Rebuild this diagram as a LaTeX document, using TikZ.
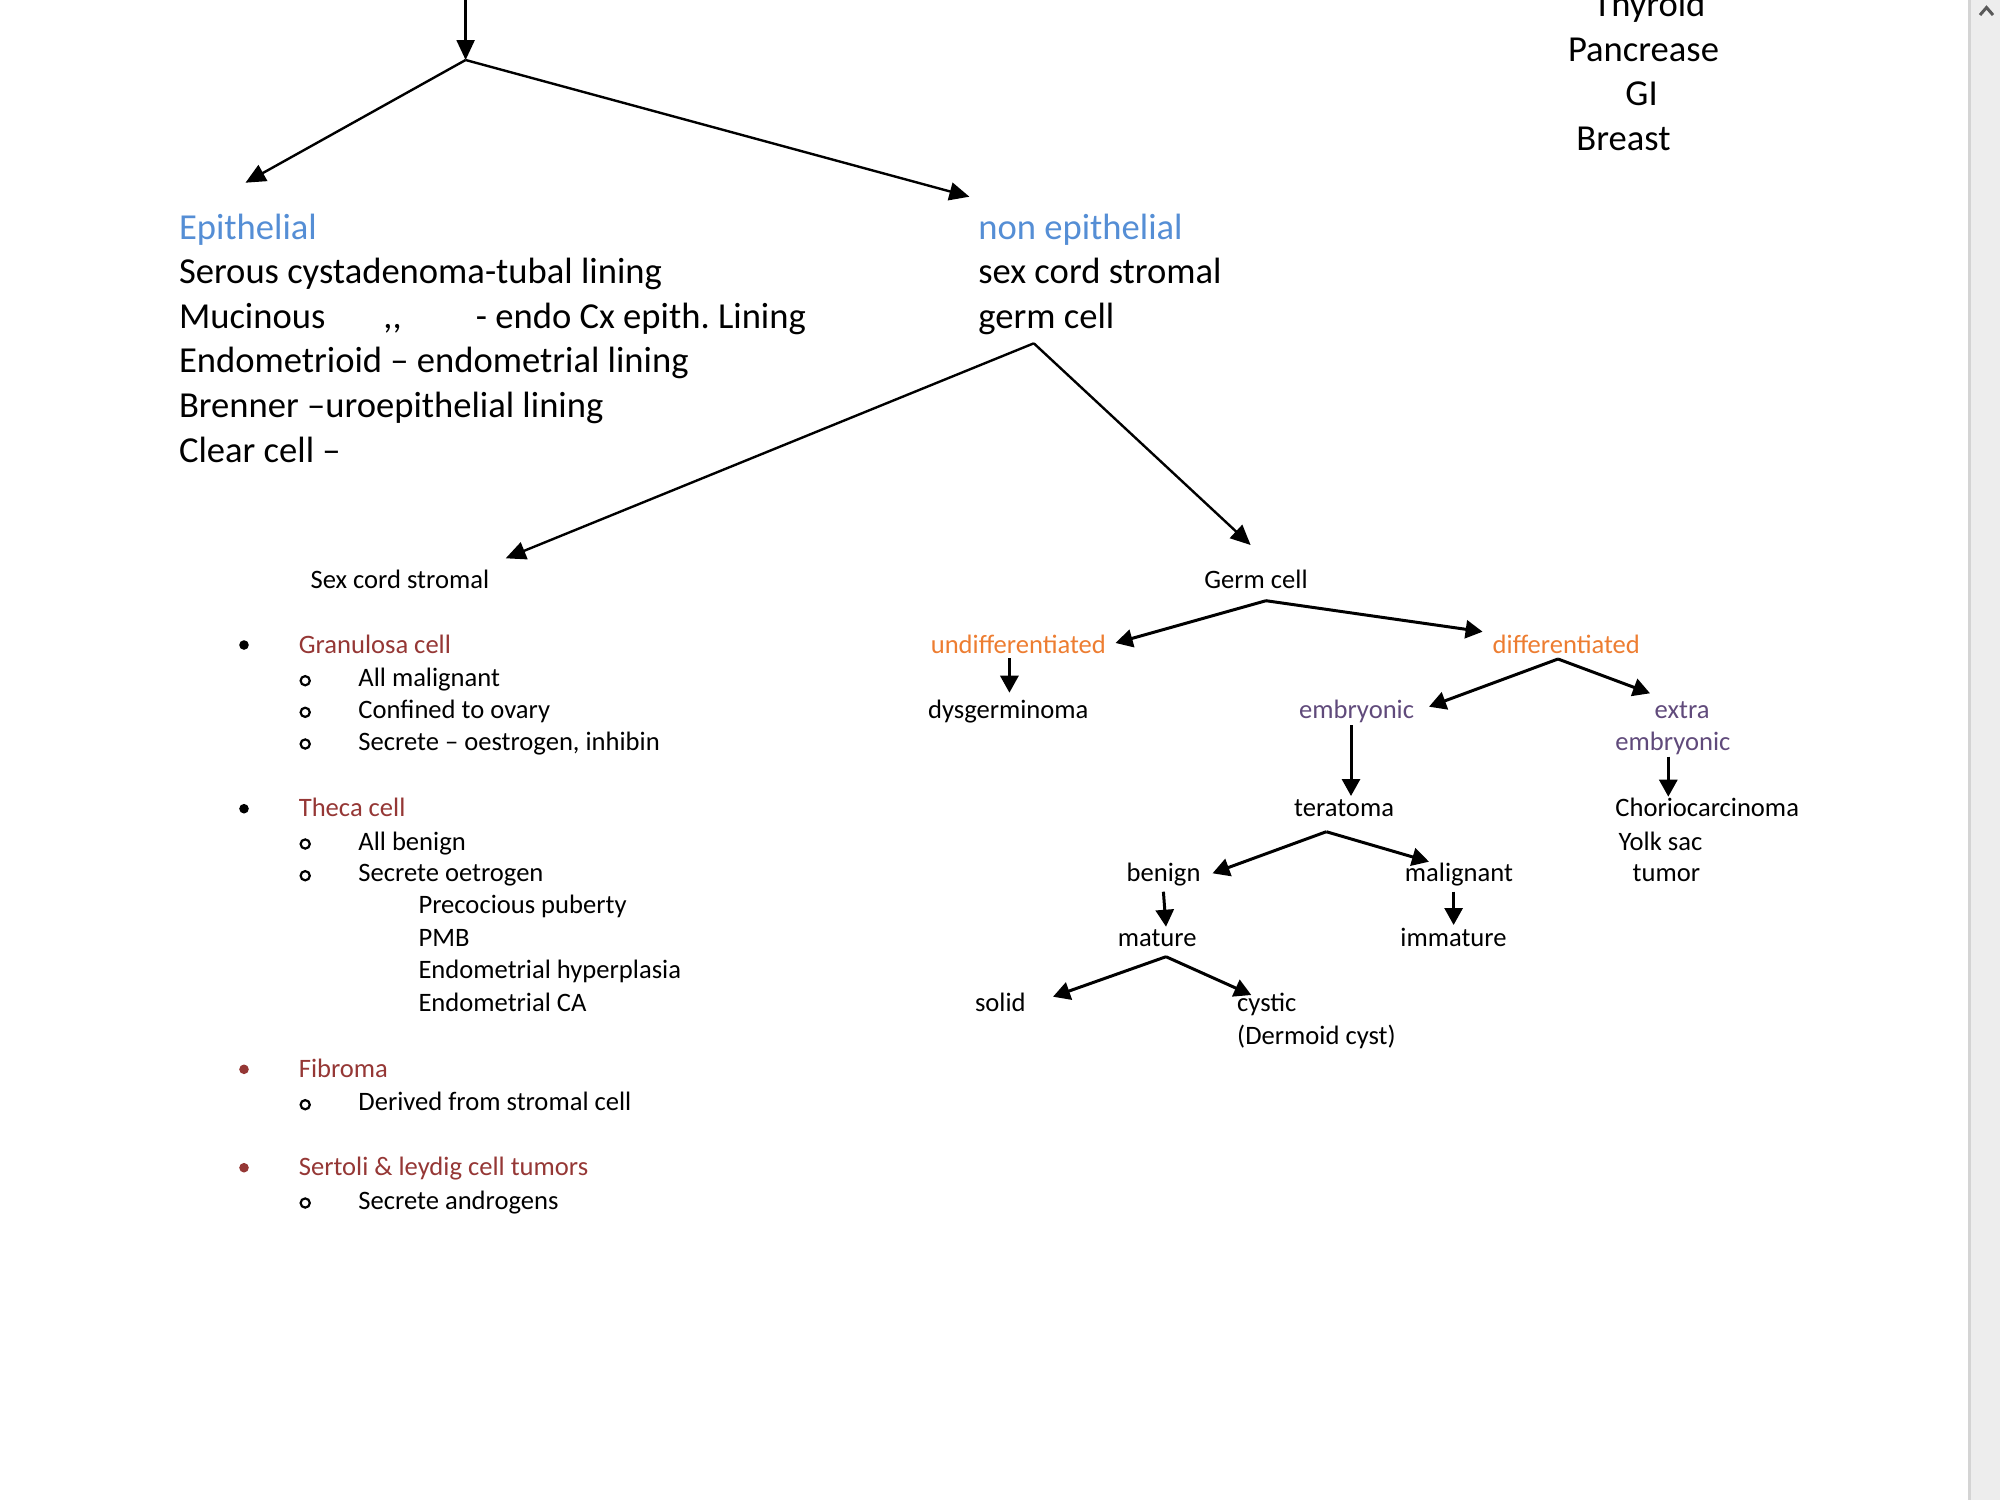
\documentclass[tikz,border=0pt]{standalone}
\usepackage{fontspec}
\setmainfont{Carlito}
\usetikzlibrary{arrows.meta}
\definecolor{epiblue}{RGB}{85,142,213}
\definecolor{orng}{RGB}{237,125,49}
\definecolor{purp}{RGB}{96,74,123}
\definecolor{dred}{RGB}{149,55,53}
\frenchspacing
\begin{document}
\begin{tikzpicture}[x=0.5pt,y=-0.5pt,
  big/.style={font=\fontsize{18.3}{22}\selectfont, inner sep=0pt, anchor=base west},
  sm/.style={font=\fontsize{13.3}{16}\selectfont, inner sep=0pt, anchor=base west},
  arr/.style={-{Triangle[length=10pt,width=9pt]}, line width=1.2pt},
  tarr/.style={-{Triangle[length=8.5pt,width=9pt]}, line width=1.5pt},
  bul/.style={circle, fill, inner sep=0pt, minimum size=4.8pt},
  subbul/.style={circle, draw, line width=1.1pt, inner sep=0pt, minimum size=4.6pt}]
\useasboundingbox (0,0) rectangle (2000,1500);
% scrollbar
\fill[black!7] (1971,0) rectangle (2000,1500);
\fill[black!17] (1968,0) rectangle (1971,1500);
\draw[black!65, line width=1.5pt] (1980,15) -- (1986.5,7.5) -- (1993,15);

% top block
\node[big,text=epiblue] (epi) at (178.6,239) {Epithelial};
\node[big] (serous) at (178.6,283.5) {Serous cystadenoma-tubal lining};
\node[big] (muc) at (178.6,328) {Mucinous};
\node[big] (ditto) at (383,328) {\mbox{,}\mbox{,}};
\node[big] (endocx) at (475.5,328) {- endo Cx epith.\ Lining};
\node[big] (endom) at (178.6,372.5) {Endometrioid – endometrial lining};
\node[big] (brenner) at (178.6,417) {Brenner –uroepithelial lining};
\node[big] (clear) at (178.6,462) {Clear cell –};

\node[big,text=epiblue] (nonepi) at (978,239) {non epithelial};
\node[big] (sexcord1) at (978,283.5) {sex cord stromal};
\node[big] (germ1) at (978,328) {germ cell};

\node[big] (thy) at (1593,16) {Thyroid};
\node[big] (panc) at (1567.6,61) {Pancrease};
\node[big] (gi) at (1625,105) {GI};
\node[big] (breast) at (1576,150) {Breast};

\coordinate (top) at (465.6,0);
\coordinate (fork1) at (465.6,60);
\coordinate (epitip) at (245.5,182.7);
\coordinate (nonepitip) at (969.4,196.7);
\draw[arr] (top) -- (fork1);
\draw[arr] (fork1) -- (epitip);
\draw[arr] (fork1) -- (nonepitip);

\coordinate (fork2) at (1033.8,343.3);
\coordinate (sctip) at (505.7,558.3);
\coordinate (gctip) at (1250.6,545);
\draw[arr] (fork2) -- (sctip);
\draw[arr] (fork2) -- (gctip);

% sex cord stromal list
\node[sm] (sexcord2) at (310.2,588.3) {Sex cord stromal};

\node[bul] (b1) at (244,645) {};
\node[sm,text=dred] (gran) at (298.4,653.3) {Granulosa cell};
\node[subbul] (c11) at (305.2,680.7) {};
\node[sm] (g1) at (358,686.7) {All malignant};
\node[subbul] (c12) at (305.2,712.3) {};
\node[sm] (g2) at (358,718.3) {Confined to ovary};
\node[subbul] (c13) at (305.2,744) {};
\node[sm] (g3) at (358,750) {Secrete – oestrogen, inhibin};

\node[bul] (b2) at (244,808.7) {};
\node[sm,text=dred] (theca) at (298.4,816.7) {Theca cell};
\node[subbul] (c21) at (305.2,844) {};
\node[sm] (t1) at (358,850) {All benign};
\node[subbul] (c22) at (305.2,875.7) {};
\node[sm] (t2) at (358,881.7) {Secrete oetrogen};
\node[sm] (t3) at (418.1,913.3) {Precocious puberty};
\node[sm] (t4) at (418.1,946.7) {PMB};
\node[sm] (t5) at (418.1,978.3) {Endometrial hyperplasia};
\node[sm] (t6) at (418.1,1011.7) {Endometrial CA};

\node[bul,fill=dred] (b3) at (244,1069.3) {};
\node[sm,text=dred] (fib) at (298.4,1077.3) {Fibroma};
\node[subbul] (c31) at (305.2,1104.7) {};
\node[sm] (f1) at (358,1110.7) {Derived from stromal cell};

\node[bul,fill=dred] (b4) at (244,1167.7) {};
\node[sm,text=dred] (sert) at (298.4,1175.7) {Sertoli \& leydig cell tumors};
\node[subbul] (c41) at (305.2,1203) {};
\node[sm] (s1) at (358,1209) {Secrete androgens};

% germ cell tree
\node[sm,anchor=base] (germ2) at (1256,588.3) {Germ cell};
\node[sm,text=orng] (undiff) at (930.4,653.3) {undifferentiated};
\node[sm] (dysg) at (927.7,718) {dysgerminoma};
\node[sm,text=orng] (diff) at (1492.3,653.3) {differentiated};
\node[sm,text=purp] (embr) at (1298.7,718) {embryonic};
\node[sm,text=purp] (extra) at (1654.3,718) {extra};
\node[sm,text=purp] (extraemb) at (1615,750) {embryonic};
\node[sm] (terat) at (1293.8,816.7) {teratoma};
\node[sm] (chorio) at (1615,816.7) {Choriocarcinoma};
\node[sm] (yolk) at (1618.3,850) {Yolk sac};
\node[sm] (tumor) at (1632.3,881.7) {tumor};
\node[sm] (benign) at (1126.3,881.7) {benign};
\node[sm] (malig) at (1404.5,881.7) {malignant};
\node[sm] (mature) at (1117.4,946.7) {mature};
\node[sm] (immature) at (1400,946.7) {immature};
\node[sm] (solid) at (974.6,1011.7) {solid};
\node[sm] (cystic) at (1236.8,1011.7) {cystic};
\node[sm] (dermoid) at (1236.8,1044) {(Dermoid cyst)};

\coordinate (gfork) at (1266,600.7);
\coordinate (undifftip) at (1115.6,643);
\coordinate (difftip) at (1482.6,631.7);
\draw[tarr] (gfork) -- (undifftip);
\draw[tarr] (gfork) -- (difftip);

\coordinate (udown) at (1009.4,658);
\coordinate (dysgtip) at (1009.4,692.7);
\draw[tarr] (udown) -- (dysgtip);

\coordinate (dfork) at (1558,659);
\coordinate (embtip) at (1429,706.7);
\coordinate (extratip) at (1650,693.3);
\draw[tarr] (dfork) -- (embtip);
\draw[tarr] (dfork) -- (extratip);

\coordinate (edown) at (1351,725);
\coordinate (teratip) at (1351,796);
\draw[tarr] (edown) -- (teratip);

\coordinate (xdown) at (1668.3,756.7);
\coordinate (choriotip) at (1668.3,796.7);
\draw[tarr] (xdown) -- (choriotip);

\coordinate (tfork) at (1326.3,831.7);
\coordinate (benigntip) at (1212.5,873.3);
\coordinate (maligtip) at (1429,861.7);
\draw[tarr] (tfork) -- (benigntip);
\draw[tarr] (tfork) -- (maligtip);

\coordinate (bdown) at (1163.4,891.7);
\coordinate (maturetip) at (1166,926.7);
\draw[tarr] (bdown) -- (maturetip);

\coordinate (mdown) at (1453.6,891.7);
\coordinate (immtip) at (1453.6,925);
\draw[tarr] (mdown) -- (immtip);

\coordinate (mfork) at (1166,956.7);
\coordinate (solidtip) at (1053,996.7);
\coordinate (cystictip) at (1251.3,995);
\draw[tarr] (mfork) -- (solidtip);
\draw[tarr] (mfork) -- (cystictip);
\end{tikzpicture}
\end{document}
